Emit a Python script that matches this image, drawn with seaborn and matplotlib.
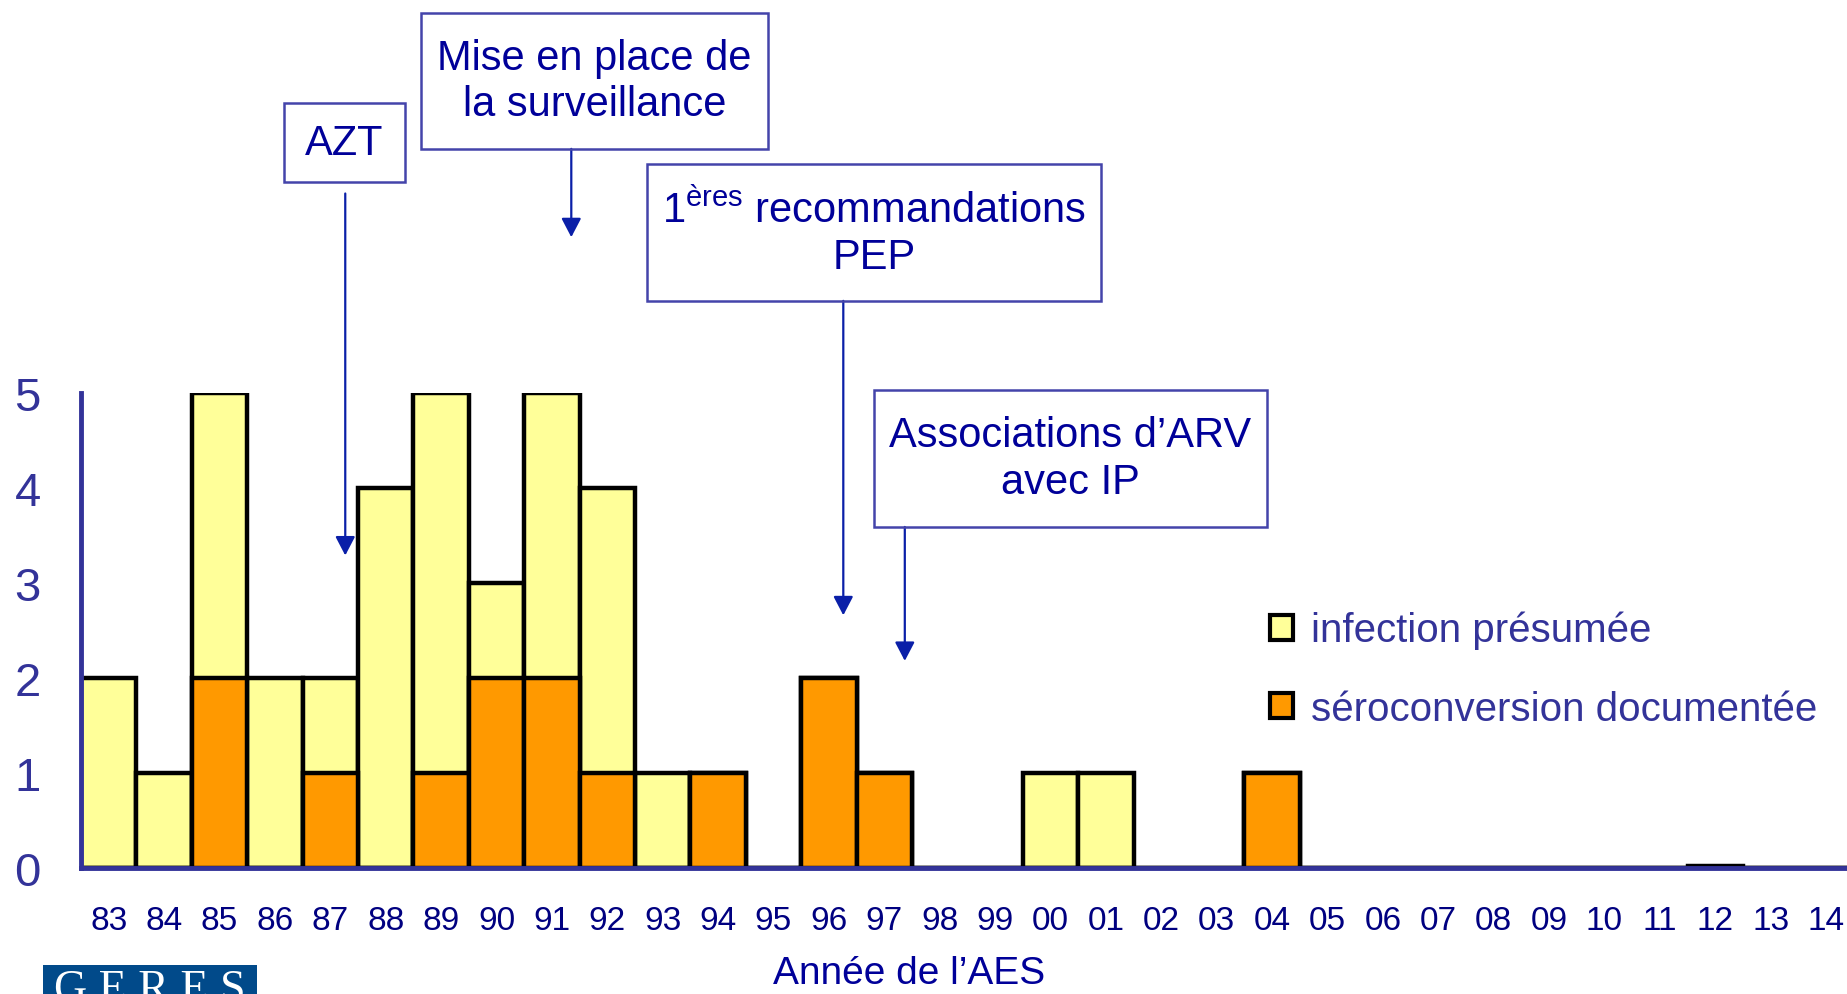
import matplotlib
matplotlib.use("Agg")
import matplotlib.pyplot as plt
from matplotlib.patches import Rectangle, Patch
import seaborn as sns
import pandas as pd

# --- data ---
years = ["83", "84", "85", "86", "87", "88", "89", "90", "91", "92", "93", "94",
         "95", "96", "97", "98", "99", "00", "01", "02", "03", "04", "05", "06",
         "07", "08", "09", "10", "11", "12", "13", "14"]
presumee = [2, 1, 3, 2, 1, 4, 4, 1, 3, 3, 1, 0,
            0, 0, 0, 0, 0, 1, 1, 0, 0, 0, 0, 0,
            0, 0, 0, 0, 0, 0.02, 0, 0]
documentee = [0, 0, 2, 0, 1, 0, 1, 2, 2, 1, 0, 1,
              0, 2, 1, 0, 0, 0, 0, 0, 0, 1, 0, 0,
              0, 0, 0, 0, 0, 0, 0, 0]
legend_labels = ["infection présumée", "séroconversion documentée"]

# events: text, box (x0, x1, y_top, y_bottom) in data units, arrow (x, y_start, y_tip)
events = [
    ("AZT", (3.16, 5.35, 8.05, 7.22), (4.27, 7.10, 3.29)),
    ("Mise en place de\nla surveillance", (5.64, 11.90, 9.00, 7.57), (8.35, 7.57, 6.64)),
    ("1$^{\\mathrm{ères}}$ recommandations\nPEP", (9.72, 17.91, 7.41, 5.97), (13.26, 5.97, 2.66)),
    ("Associations d’ARV\navec IP", (13.81, 20.91, 5.03, 3.59), (14.37, 3.59, 2.18)),
]

YELLOW = "#FFFF99"
ORANGE = "#FF9900"
AXBLUE = "#333399"
NAVY = "#000099"
FONT = ["Liberation Sans", "DejaVu Sans"]

sns.set_style("white")
plt.rcParams["font.family"] = FONT
plt.rcParams["mathtext.fontset"] = "custom"
plt.rcParams["mathtext.rm"] = "Liberation Sans"

df = pd.DataFrame({"year": years,
                   "total": [a + b for a, b in zip(presumee, documentee)],
                   "doc": documentee})

fig = plt.figure(figsize=(18.47, 9.95), dpi=100)
ax = fig.add_axes([81 / 1847, 1 - 869 / 995, 1 - 81 / 1847, 475 / 995])

sns.barplot(data=df, x="year", y="total", color=YELLOW, saturation=1, width=1,
            edgecolor="black", linewidth=3.2, ax=ax)
sns.barplot(data=df, x="year", y="doc", color=ORANGE, saturation=1, width=1,
            edgecolor="black", linewidth=3.2, ax=ax)

ax.set_xlim(-0.5, (1847 - 81) / 55.4 - 0.5)
ax.set_ylim(0, 5)
ax.set_yticks(range(6))
ax.set_xlabel("")
ax.set_ylabel("")

for s in ["top", "right"]:
    ax.spines[s].set_visible(False)
for s in ["left", "bottom"]:
    ax.spines[s].set_color(AXBLUE)
    ax.spines[s].set_linewidth(3.5)
    ax.spines[s].set_zorder(5)

ax.tick_params(axis="y", length=11, width=3.5, color=AXBLUE, labelcolor=AXBLUE,
               labelsize=34, pad=18)
ax.tick_params(axis="x", length=0, labelcolor="#000080", labelsize=24, pad=27)

fig.text(909 / 1847, 1 - 956 / 995, "Année de l’AES", ha="center", va="top",
         fontsize=28, color=NAVY)

# annotation boxes and arrows
for label, (x0, x1, yt, yb), (xa, ys, ye) in events:
    ax.add_patch(Rectangle((x0, yb), x1 - x0, yt - yb, fill=False,
                           edgecolor="#4444AA", linewidth=1.8, clip_on=False, zorder=6))
    ax.text((x0 + x1) / 2, (yt + yb) / 2, label, ha="center", va="center",
            fontsize=30, color=NAVY, linespacing=1.2, clip_on=False, zorder=7)
    ax.annotate("", xy=(xa, ye), xytext=(xa, ys), annotation_clip=False,
                arrowprops=dict(arrowstyle="-|>,head_length=1.15,head_width=0.6",
                                color="#0A1FA8", lw=1.6, shrinkA=0, shrinkB=0))

# legend
handles = [Patch(facecolor=YELLOW, edgecolor="black", linewidth=3),
           Patch(facecolor=ORANGE, edgecolor="black", linewidth=3)]
fig.legend(handles, legend_labels, loc="upper left",
           bbox_to_anchor=(1270 / 1847, 1 - 612 / 995), frameon=False,
           borderaxespad=0, borderpad=0,
           fontsize=29, handlelength=0.57, handleheight=0.57, handletextpad=0.45,
           labelspacing=1.0, labelcolor=AXBLUE)

# GERES logo
fig.patches.append(Rectangle((43 / 1847, 0), (257 - 43) / 1847, (995 - 966) / 995,
                             transform=fig.transFigure, facecolor="#014A8A",
                             edgecolor="none"))
fig.text(150 / 1847, 1 - 970 / 995, "G E R E S", ha="center", va="top",
         fontsize=33, color="white", family=["Liberation Serif", "DejaVu Serif"])

fig.savefig("out.png", dpi=100)
